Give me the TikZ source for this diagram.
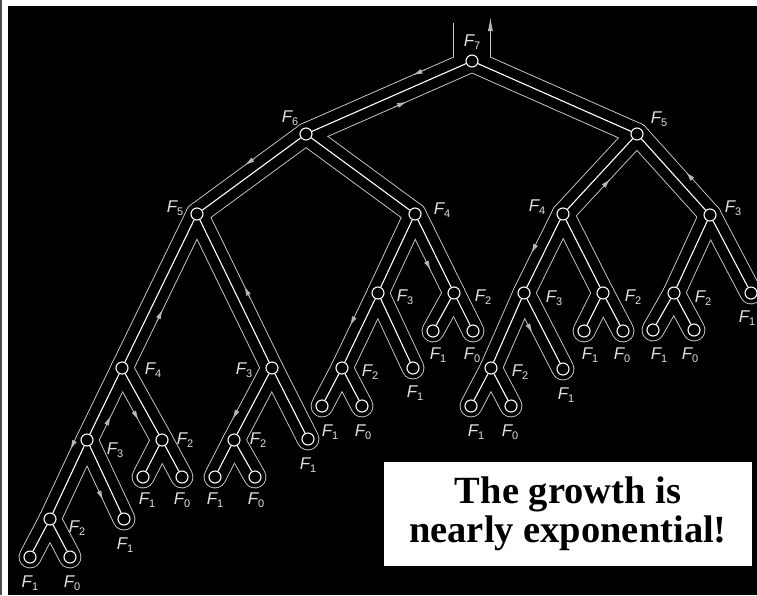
\documentclass[tikz,border=0pt]{standalone}
\usepackage{fontspec}
\setmainfont{Liberation Serif}
\newfontfamily\labelfont{Liberation Sans}
\usetikzlibrary{calc,arrows.meta}

\pgfdeclarelayer{tour}
\pgfsetlayers{tour,main}

\definecolor{tourgray}{gray}{0.8}
\definecolor{flowgray}{gray}{0.72}
\definecolor{lblgray}{gray}{0.88}

\newcommand\fib[1]{F\raisebox{-3.5pt}{\upshape\fontsize{11}{11}\selectfont#1}}
\newcommand\treeedges{t/tl,t/tr,tl/tll,tl/tlr,tr/trl,tr/trr,%
  tll/tlll,tll/tllr,tlr/tlrl,tlr/tlrr,trl/trll,trl/trlr,trr/trrl,trr/trrr,%
  tlll/tllll,tlll/tlllr,tllr/tllrl,tllr/tllrr,tlrl/tlrll,tlrl/tlrlr,%
  tlrr/tlrrl,tlrr/tlrrr,trll/trlll,trll/trllr,trlr/trlrl,trlr/trlrr,%
  trrl/trrll,trrl/trrlr,tllll/tlllll,tllll/tllllr,tlllr/tlllrl,tlllr/tlllrr,%
  tllrl/tllrll,tllrl/tllrlr,tlrll/tlrlll,tlrll/tlrllr,trlll/trllll,trlll/trlllr,%
  tlllll/tllllll,tlllll/tlllllr}
% arrow on the tour beside edge #1--#2, at #3 of the way
\newcommand\flow[3]{%
  \pgfmathsetmacro\flowtail{#3-0.08}%
  \draw[flowtip] ($(#1.center)!\flowtail!(#2.center)!10.9pt!-90:(#2.center)$)
    -- ($(#1.center)!#3!(#2.center)!10.9pt!-90:(#2.center)$);}

\begin{document}
\begin{tikzpicture}[x=1pt,y=-1pt,
    vertex/.style={circle,draw=white,fill=black,line width=1.1pt,minimum size=12pt,inner sep=0pt},
    lbl/.style={text=lblgray,font=\labelfont\itshape\fontsize{17}{17}\selectfont,inner sep=0pt},
    link/.style={draw=white,line width=1.1pt},
    tour/.style={draw=tourgray,line width=22.8pt,line cap=round,line join=round},
    tourcut/.style={draw=black,line width=21pt,line cap=round,line join=round},
    flowtip/.style={draw=flowgray,line width=0.8pt,-{Latex[length=9.5pt,width=5pt]}},
    note/.style={fill=white,minimum width=368pt,minimum height=104pt,align=center,
      inner sep=0pt,font=\bfseries\fontsize{38.5}{39}\selectfont}]
\useasboundingbox (0,0) rectangle (757,595);

% the recursion tree
\foreach \nm/\x/\y/\n/\dx/\dy in {t/472/61/7/0/-19,
    tl/306/134/6/-16/-16, tr/637/134/5/22/-15,
    tll/197/214/5/-22/-6, tlr/415/214/4/27/-4, trl/563/214/4/-26/-7, trr/710/215/3/23/-7,
    tlll/122/368/4/31/2, tllr/272/368/3/-28/2, tlrl/378/293/3/27/4, tlrr/454/293/2/29/4,
    trll/524/293/3/30/5, trlr/603/293/2/30/4, trrl/674/293/2/29/5, trrr/751/293/1/-4/25,
    tllll/87/440/3/28/10, tlllr/162/440/2/23/0, tllrl/234/440/2/24/0, tllrr/308/439/1/0/26,
    tlrll/342/368/2/28/4, tlrlr/413/368/1/2/25, tlrrl/433/331/1/5/24, tlrrr/473/331/0/-1/24,
    trlll/491/368/2/29/4, trllr/563/369/1/3/26, trlrl/584/331/1/6/24, trlrr/623/331/0/-1/24,
    trrll/653/330/1/6/25, trrlr/694/330/0/-4/25,
    tlllll/50/519/2/27/9, tllllr/124/519/1/1/26, tlllrl/143/477/1/4/23, tlllrr/182/477/0/0/23,
    tllrll/215/477/1/0/23, tllrlr/255/477/0/1/23, tlrlll/322/406/1/8/26, tlrllr/362/406/0/1/26,
    trllll/471/406/1/5/26, trlllr/511/406/0/-1/26,
    tllllll/30/557/1/0/26, tlllllr/70/557/0/2/26}{
  \node[vertex] (\nm) at (\x,\y) {};
  \node[lbl] (\nm-f) at ($(\nm)+(\dx,\dy)$) {\fib{\n}};
}
\foreach \a/\b in \treeedges \draw[link] (\a) -- (\b);

% the walk round the tree
\begin{pgfonlayer}{tour}
  \fill[white] (0,0) rectangle (757,595);
  \fill[black!70] (0,0) rectangle (2,595);
  \fill[black] (8,6) rectangle (757,595);
  \foreach \a/\b in \treeedges \draw[tour] (\a.center) -- (\b.center);
  \draw[tour,line width=37.6pt,line cap=butt] (t.center) -- ++(0,-38);
  \foreach \a/\b in \treeedges \draw[tourcut] (\a.center) -- (\b.center);
  \draw[tourcut,line width=36pt,line cap=butt] (t.center) -- ++(0,-40);
\end{pgfonlayer}
\draw[flowtip,-{Latex[length=14pt,width=5pt]}] ($(t.center)+(18.4,-30)$) -- ($(t.center)+(18.4,-44)$);
\foreach \a/\b/\p in {t/tl/0.33, tl/t/0.58, tl/tll/0.5, tlll/tll/0.41, tllr/tll/0.5,
    tllll/tlllll/0.18, tllll/tlll/0.4, tlll/tlllr/0.65, tllr/tllrl/0.78, tllll/tllllr/0.7,
    tlrl/tlrll/0.5, tlr/tlrr/0.65, trl/tr/0.53, trl/trll/0.56, trll/trllr/0.46, trr/tr/0.44}
  \flow{\a}{\b}{\p};

\node[note] (msg) at (568,514) {The growth is\\nearly exponential!};
\end{tikzpicture}
\end{document}
